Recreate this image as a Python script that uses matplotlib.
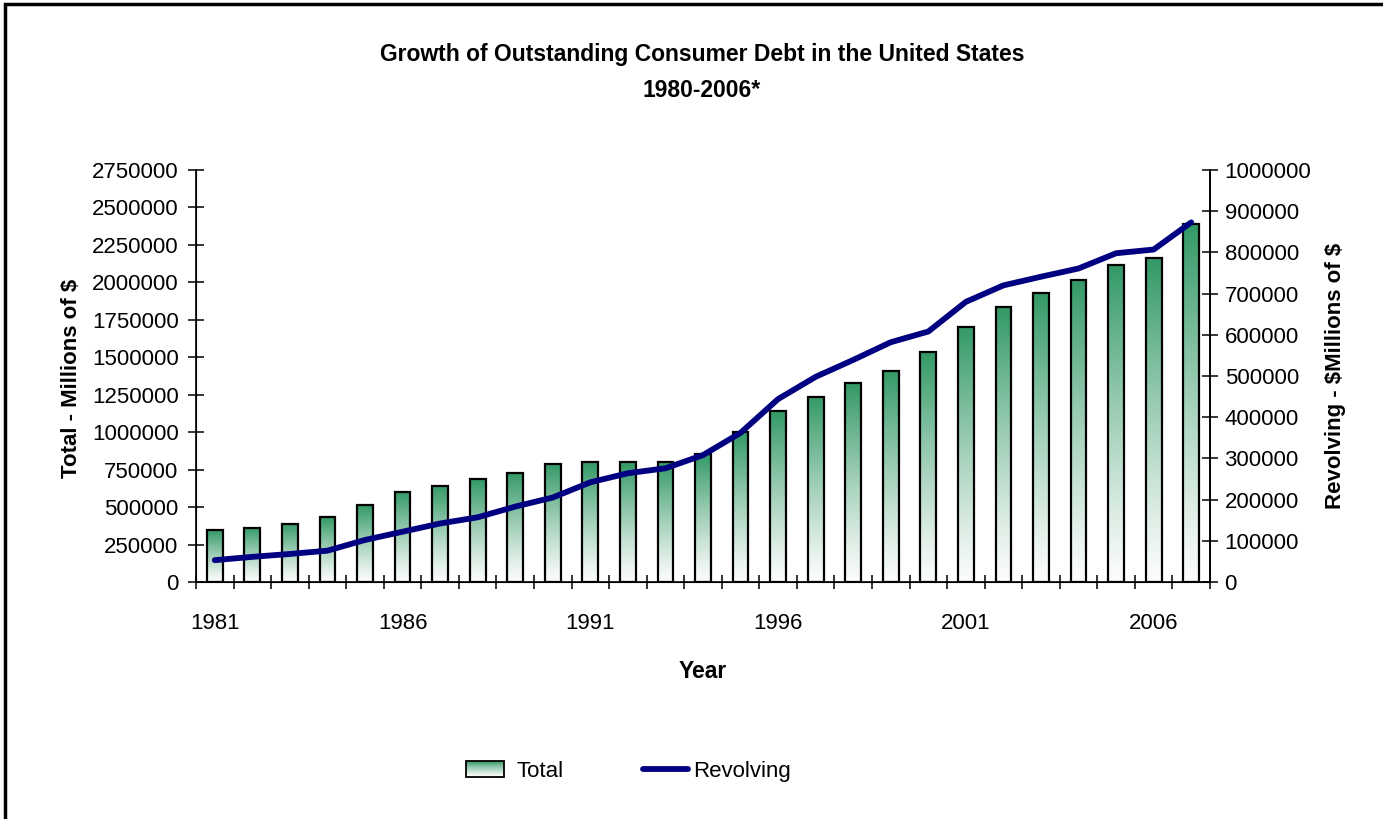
import numpy as np
import matplotlib
matplotlib.use("Agg")
import matplotlib.pyplot as plt
from matplotlib.patches import Rectangle
from matplotlib.lines import Line2D
from matplotlib.colors import LinearSegmentedColormap

plt.rcParams["font.family"] = ["Liberation Sans", "DejaVu Sans"]

# Données
years = list(range(1981, 2008))
total = [347000, 362000, 388000, 432000, 514000, 601000, 643000, 685000, 728000,
         788000, 801000, 801000, 801000, 856000, 999000, 1141000, 1237000, 1326000,
         1409000, 1537000, 1704000, 1834000, 1932000, 2018000, 2116000, 2161000, 2388000]
revolving = [53000, 61000, 68000, 76000, 102000, 122000, 142000, 157000, 183000,
             205000, 242000, 264000, 276000, 308000, 362000, 444000, 498000, 539000,
             582000, 608000, 680000, 720000, 741000, 761000, 798000, 807000, 873000]
left_ticks = list(range(0, 2750001, 250000))
right_ticks = list(range(0, 1000001, 100000))
year_labels = [1981, 1986, 1991, 1996, 2001, 2006]

green = "#339966"
navy = "#000080"
cmap = LinearSegmentedColormap.from_list("g", ["#fbfcfb", green])

fig = plt.figure(figsize=(13.83, 8.19), dpi=100)
ax = fig.add_axes([0.1417, 0.2894, 0.7332, 0.503])

x = np.arange(len(years))
bars = ax.bar(x, total, width=0.42, facecolor="none", edgecolor="black",
              linewidth=1.6, zorder=3)

# dégradé vert -> blanc dans chaque barre
grad = np.linspace(0, 1, 256).reshape(-1, 1) ** 1.2
for b in bars:
    x0, w, h = b.get_x(), b.get_width(), b.get_height()
    ax.imshow(grad, extent=[x0, x0 + w, 0, h], origin="lower", aspect="auto",
              cmap=cmap, vmin=0, vmax=1, zorder=2)

ax.set_xlim(-0.5, len(years) - 0.5)
ax.set_ylim(0, 2750000)
ax.set_yticks(left_ticks)
ax.set_yticklabels([str(v) for v in left_ticks])
ax.set_xticks([years.index(y) for y in year_labels])
ax.set_xticklabels([str(y) for y in year_labels])
ax.set_xticks(np.arange(-0.5, len(years), 1.0), minor=True)
ax.tick_params(axis="x", which="major", length=0, pad=22, labelsize=16)
ax.tick_params(axis="x", which="minor", direction="inout", length=10, width=1.1)
ax.tick_params(axis="y", direction="inout", length=11, width=1.1, pad=7,
               labelsize=16)
ax.spines["top"].set_visible(False)
for s in ["left", "bottom", "right"]:
    ax.spines[s].set_linewidth(1.2)

ax2 = ax.twinx()
ax2.plot(x, revolving, color=navy, linewidth=4.2, solid_capstyle="round", zorder=4)
ax2.set_ylim(0, 1000000)
ax2.set_yticks(right_ticks)
ax2.set_yticklabels([str(v) for v in right_ticks])
ax2.tick_params(axis="y", direction="inout", length=11, width=1.1, pad=5,
                labelsize=16)
ax2.spines["top"].set_visible(False)
ax2.spines["right"].set_linewidth(1.2)

# titres et libellés
fig.text(0.5076, 0.933, "Growth of Outstanding Consumer Debt in the United States",
         ha="center", va="center", fontsize=16.5, fontweight="bold")
fig.text(0.5076, 0.890, "1980-2006*", ha="center", va="center",
         fontsize=16.5, fontweight="bold")
fig.text(0.052, 0.5385, "Total - Millions of \\$", rotation=90, ha="center",
         va="center", fontsize=16, fontweight="bold")
fig.text(0.9653, 0.541, "Revolving - \\$Millions of \\$", rotation=90, ha="center",
         va="center", fontsize=16, fontweight="bold")
fig.text(0.5083, 0.1795, "Year", ha="center", va="center", fontsize=16.5,
         fontweight="bold")


class GradientHandler:
    def legend_artist(self, legend, orig_handle, fontsize, handlebox):
        x0, y0 = handlebox.xdescent, handlebox.ydescent
        w, h = handlebox.width * 0.86, handlebox.height
        tr = handlebox.get_transform()
        n = 24
        for i in range(n):
            c = cmap(((i + 0.5) / n) ** 1.2)
            handlebox.add_artist(Rectangle((x0, y0 + h * i / n), w, h / n,
                                           facecolor=c, edgecolor="none", transform=tr))
        outline = Rectangle((x0, y0), w, h, fill=False, edgecolor="black",
                            linewidth=1.3, transform=tr)
        handlebox.add_artist(outline)
        return outline


h_total = Rectangle((0, 0), 1, 1)
h_rev = Line2D([], [], color=navy, linewidth=4.2, solid_capstyle="round")
fig.legend([h_total, h_rev], ["Total", "Revolving"], loc="center",
           bbox_to_anchor=(0.4545, 0.0586), ncol=2, frameon=False, fontsize=16,
           handlelength=2.0, handletextpad=0.25, columnspacing=3.6,
           handler_map={Rectangle: GradientHandler()})

# cadre de la figure
fig.add_artist(Rectangle((0.0036, -0.5), 2, 1.4951, transform=fig.transFigure,
                         fill=False, edgecolor="black", linewidth=2.5))

fig.savefig("out.png", dpi=100)
